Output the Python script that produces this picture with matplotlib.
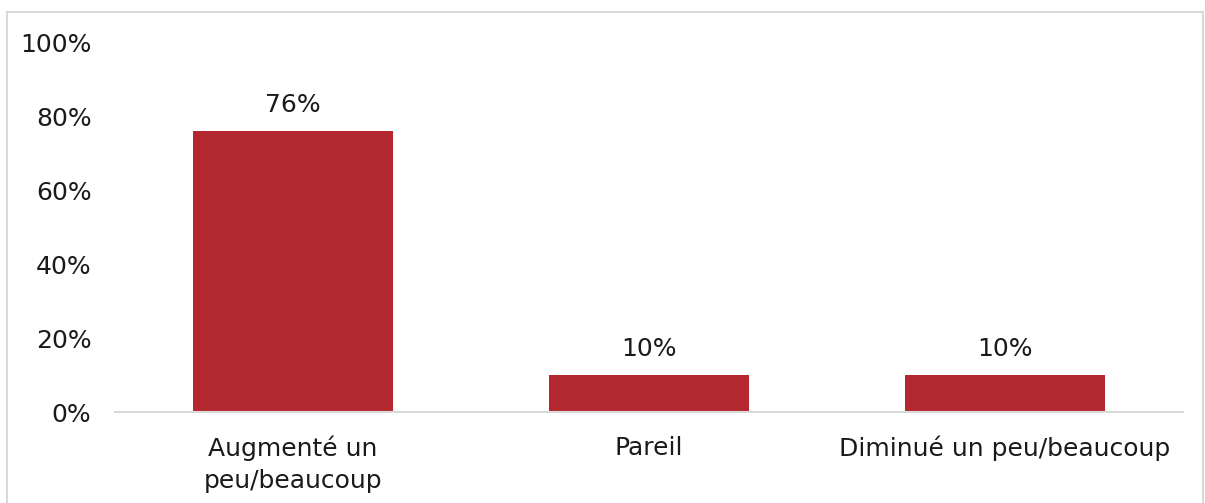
import matplotlib
matplotlib.use("Agg")
import matplotlib.pyplot as plt
from matplotlib.patches import Rectangle

categories = ["Augmenté un\npeu/beaucoup", "Pareil", "Diminué un peu/beaucoup"]
values = [76, 10, 10]
y_ticks = [0, 20, 40, 60, 80, 100]
y_tick_labels = ["0%", "20%", "40%", "60%", "80%", "100%"]

bar_color = "#B3282E"
grid_gray = "#D9D9D9"
text_color = "#1a1a1a"
fs = 18

plt.rcParams["font.family"] = ["DejaVu Sans"]

W, H = 1205, 503
fig = plt.figure(figsize=(W / 100, H / 100), dpi=100)
ax = fig.add_axes([115 / W, 1 - 412 / H, (1183 - 115) / W, (412 - 42) / H])

# Light border around the chart area
fig.patches.append(Rectangle((7 / W, -0.05), (1203 - 7) / W, 1 - 12 / H + 0.05,
                             transform=fig.transFigure, fill=False,
                             edgecolor=grid_gray, linewidth=1.5))

x = range(len(categories))
bars = ax.bar(x, values, width=0.56, color=bar_color)

for xi, v in zip(x, values):
    ax.annotate(f"{v}%", (xi, v), xytext=(0, 10), textcoords="offset points",
                ha="center", va="bottom", fontsize=fs, color=text_color)

ax.set_xlim(-0.5, 2.5)
ax.set_ylim(0, 100)
ax.set_yticks(y_ticks)
ax.set_yticklabels(y_tick_labels, fontsize=fs, color=text_color)
ax.set_xticks(list(x))
ax.set_xticklabels(categories, fontsize=fs, color=text_color, linespacing=1.4)
ax.tick_params(axis="y", length=0, pad=17)
ax.tick_params(axis="x", length=0, pad=17)

for side in ["top", "right", "left"]:
    ax.spines[side].set_visible(False)
ax.spines["bottom"].set_color(grid_gray)
ax.spines["bottom"].set_linewidth(1.5)

fig.savefig("out.png", dpi=100)
